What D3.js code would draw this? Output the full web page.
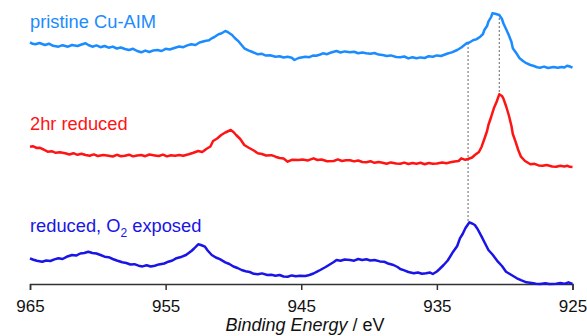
<!DOCTYPE html>
<html>
<head>
<meta charset="utf-8">
<script src="https://cdn.jsdelivr.net/npm/d3@7"></script>
<style>
  body { margin: 0; background: #fff; }
  svg { display: block; font-family: "Liberation Sans", Arial, sans-serif; }
</style>
</head>
<body>
<div id="chart"></div>
<script>
// [binding energy (eV), intensity (a.u.)]
const pristine = [
  [965.0,41.7],[964.8,40.2],[964.6,39.7],[964.3,41.0],[963.9,39.0],[963.6,40.3],[963.3,38.2],[962.9,37.3],
  [962.6,38.8],[962.2,37.3],[961.9,39.0],[961.5,38.0],[961.2,39.5],[960.9,40.7],[960.7,39.0],[960.4,37.3],
  [960.1,38.6],[959.8,36.8],[959.5,38.0],[959.2,36.3],[958.9,37.4],[958.6,35.5],[958.3,36.5],[958.0,35.0],
  [957.7,34.0],[957.4,35.2],[957.1,33.0],[956.8,31.7],[956.5,33.4],[956.2,32.0],[955.9,33.6],[955.6,34.0],
  [955.3,33.0],[955.0,35.2],[954.7,34.5],[954.3,36.3],[954.0,37.5],[953.7,36.8],[953.4,38.6],[953.1,39.7],
  [952.8,39.0],[952.5,41.5],[952.1,43.0],[951.8,43.8],[951.6,45.7],[951.4,47.0],[951.1,49.7],[950.9,50.5],
  [950.6,53.0],[950.4,51.8],[950.1,49.0],[949.9,46.0],[949.6,42.3],[949.4,39.0],[949.2,35.7],[948.9,33.6],
  [948.6,32.0],[948.2,29.7],[947.9,30.2],[947.6,28.4],[947.3,28.8],[946.9,27.3],[946.6,27.8],[946.3,26.5],
  [946.0,27.2],[945.7,26.3],[945.5,24.0],[945.2,26.0],[944.7,27.3],[944.4,26.8],[944.1,28.6],[943.9,28.3],
  [943.6,29.5],[943.4,30.7],[943.1,29.8],[942.8,31.5],[942.4,33.0],[942.1,31.5],[941.8,32.6],[941.4,31.7],
  [941.1,32.2],[940.8,30.8],[940.5,31.5],[940.2,30.7],[939.9,30.2],[939.6,31.0],[939.3,29.4],[939.0,29.0],
  [938.7,28.0],[938.4,28.6],[938.0,27.0],[937.7,26.7],[937.4,27.5],[937.1,25.6],[936.8,26.8],[936.5,25.7],
  [936.2,26.6],[935.9,26.0],[935.6,27.8],[935.3,27.3],[935.0,28.6],[934.7,28.0],[934.5,29.0],[934.2,30.5],
  [933.9,31.6],[933.5,34.0],[933.2,36.5],[932.8,40.7],[932.6,41.5],[932.3,44.0],[932.1,44.6],[931.8,47.3],
  [931.6,50.0],[931.5,54.0],[931.3,58.0],[931.2,62.3],[931.0,67.0],[930.9,70.7],[930.7,70.2],[930.4,69.0],
  [930.2,65.0],[930.1,60.7],[929.9,55.0],[929.7,49.0],[929.5,42.0],[929.4,35.7],[929.1,30.0],[928.9,25.7],
  [928.6,22.5],[928.4,20.8],[928.1,19.0],[927.9,18.2],[927.6,16.8],[927.4,16.3],[927.1,17.4],[926.8,16.0],
  [926.4,17.0],[926.1,16.2],[925.8,17.0],[925.6,16.5],[925.4,18.3],[925.2,17.5],[925.0,16.3]
];

const reduced = [
  [965.0,37.3],[964.8,37.8],[964.5,36.0],[964.3,36.3],[964.0,34.5],[963.7,32.3],[963.4,32.8],[963.1,31.2],
  [962.8,31.8],[962.4,30.7],[962.1,29.5],[961.8,30.8],[961.5,29.2],[961.2,30.2],[960.9,29.0],[960.6,28.2],
  [960.3,29.6],[960.0,28.0],[959.6,29.0],[959.2,28.3],[958.9,27.5],[958.6,29.2],[958.3,27.8],[958.0,28.3],
  [957.7,29.3],[957.4,27.6],[957.1,28.5],[956.8,29.0],[956.5,27.8],[956.2,29.5],[955.8,28.6],[955.5,28.0],
  [955.2,29.4],[954.9,27.6],[954.6,28.8],[954.3,28.3],[954.0,29.0],[953.7,28.2],[953.3,29.7],[953.0,31.0],
  [952.6,33.0],[952.3,32.0],[952.0,35.0],[951.7,37.5],[951.5,43.0],[951.2,45.5],[950.9,49.0],[950.6,51.5],
  [950.2,54.0],[950.0,52.0],[949.8,49.0],[949.5,45.0],[949.2,39.0],[948.9,36.5],[948.5,33.5],[948.2,30.7],
  [947.9,30.0],[947.6,28.5],[947.2,28.8],[946.9,27.3],[946.6,26.0],[946.3,25.4],[946.0,22.3],[945.7,24.2],
  [945.2,24.0],[944.9,24.5],[944.5,23.6],[944.1,25.7],[943.8,24.0],[943.5,24.5],[943.1,22.8],[942.6,23.0],
  [942.3,24.6],[942.0,23.0],[941.7,23.8],[941.4,23.7],[941.1,22.6],[940.8,23.5],[940.5,22.0],[940.2,21.7],
  [939.9,22.8],[939.6,21.2],[939.3,22.0],[939.0,21.3],[938.7,20.2],[938.4,21.6],[938.0,20.5],[937.7,20.3],
  [937.4,21.4],[937.1,20.0],[936.8,21.0],[936.5,20.3],[936.2,21.2],[935.9,19.8],[935.6,21.0],[935.3,20.3],
  [935.0,20.6],[934.6,21.5],[934.3,20.8],[934.0,21.7],[933.7,22.5],[933.4,23.0],[933.2,25.7],[932.9,24.2],
  [932.7,25.0],[932.4,26.5],[932.2,29.0],[931.9,32.0],[931.7,37.3],[931.5,45.0],[931.3,53.0],[931.2,59.0],
  [931.0,67.0],[930.8,75.7],[930.6,82.0],[930.4,89.7],[930.2,88.0],[930.1,85.7],[929.9,78.0],[929.7,69.0],
  [929.5,58.0],[929.4,50.0],[929.2,42.3],[929.0,34.0],[928.8,27.3],[928.5,23.0],[928.1,19.7],[927.8,20.2],
  [927.5,18.6],[927.2,18.3],[926.9,19.0],[926.5,17.5],[926.2,17.3],[925.9,18.2],[925.6,17.4],[925.4,18.3],
  [925.2,17.2],[925.0,17.0]
];

const exposed = [
  [965.0,25.7],[964.8,24.5],[964.5,23.2],[964.1,22.3],[963.8,23.5],[963.5,23.0],[963.2,24.6],[962.9,25.7],
  [962.6,25.0],[962.3,27.2],[961.9,29.0],[961.6,28.4],[961.3,30.5],[961.0,31.0],[960.7,32.3],[960.4,31.0],
  [960.1,30.5],[959.8,29.0],[959.5,27.3],[959.2,26.8],[958.9,25.0],[958.6,23.5],[958.2,21.7],[957.9,21.0],
  [957.6,19.5],[957.3,19.8],[957.0,18.3],[956.7,17.6],[956.4,18.8],[956.1,17.5],[955.8,18.3],[955.5,19.6],
  [955.1,20.5],[954.8,22.3],[954.5,23.5],[954.2,25.8],[953.8,27.3],[953.5,29.0],[953.1,33.0],[952.9,35.5],
  [952.6,39.7],[952.4,39.0],[952.1,37.3],[951.9,33.5],[951.6,29.0],[951.3,26.5],[951.0,24.8],[950.6,21.7],
  [950.3,20.0],[950.0,17.5],[949.7,16.0],[949.4,14.0],[949.1,12.8],[948.8,12.0],[948.5,10.2],[948.2,9.7],
  [947.9,10.6],[947.5,9.0],[947.2,9.2],[946.9,8.3],[946.6,9.0],[946.3,7.5],[946.0,7.3],[945.7,8.6],
  [945.4,7.8],[945.1,8.3],[944.7,8.0],[944.4,9.0],[944.1,10.5],[943.8,12.6],[943.6,14.0],[943.2,17.0],
  [942.9,19.5],[942.6,22.0],[942.4,24.0],[942.1,23.2],[941.8,24.5],[941.4,24.0],[941.1,23.3],[940.8,25.0],
  [940.5,24.0],[940.2,24.7],[939.9,23.5],[939.6,24.0],[939.2,22.6],[938.9,22.3],[938.6,20.5],[938.2,19.0],
  [937.9,17.0],[937.7,15.0],[937.4,13.6],[937.1,12.0],[936.7,10.7],[936.4,11.5],[936.1,10.2],[935.8,10.7],
  [935.5,11.4],[935.3,10.0],[935.0,12.5],[934.8,15.0],[934.5,19.0],[934.2,23.5],[933.8,32.3],[933.5,38.0],
  [933.3,45.7],[933.1,50.0],[932.9,55.7],[932.6,61.7],[932.4,60.5],[932.2,59.0],[932.0,55.0],[931.7,47.3],
  [931.5,42.0],[931.2,34.0],[930.9,29.5],[930.5,22.3],[930.2,18.0],[929.9,12.3],[929.5,9.0],[929.1,5.7],
  [928.8,3.8],[928.4,1.7],[928.0,1.0],[927.7,0.2],[927.4,0.0],[927.0,0.8],[926.7,0.0],[926.2,0.3],
  [925.9,1.0],[925.6,0.2],[925.3,1.7],[925.0,0.0]
];

const seriesNames = ['pristine Cu-AIM', '2hr reduced', 'reduced, O2 exposed'];
const seriesOffsets = [200, 100, 0];
const seriesColors = ['#1a8cff', '#ff1414', '#1a14e6'];

const tickValues = [965, 955, 945, 935, 925];

// dashed guides: energy, from (stacked intensity) to (stacked intensity)
const guideLines = [
  { ev: 932.7, top: 241, bottom: 62 },
  { ev: 930.4, top: 266, bottom: 189 }
];

const width = 587;
const height = 336;

const svg = d3.select('#chart')
  .append('svg')
  .attr('width', width)
  .attr('height', height);

const x = d3.scaleLinear()
  .domain([965, 925])
  .range([30, 572.5]);

const y = d3.scaleLinear()
  .domain([0, 284])
  .range([284, 0]);

// x-axis
const axis = svg.append('g')
  .attr('transform', `translate(0, ${y(0)})`)
  .call(d3.axisBottom(x).tickValues(tickValues).tickSize(6).tickPadding(9.5).tickFormat(d3.format('d')));

axis.select('.domain')
  .attr('stroke', '#333')
  .attr('stroke-width', 1.5);
axis.selectAll('.tick line')
  .attr('stroke', '#333')
  .attr('stroke-width', 1.5);
axis.selectAll('.tick text')
  .attr('fill', '#111')
  .style('font-size', '17px')
  .style('font-family', '"Liberation Sans", Arial, sans-serif');

// axis title
const title = svg.append('text')
  .attr('x', 305)
  .attr('y', 331)
  .attr('text-anchor', 'middle')
  .attr('fill', '#111')
  .style('font-size', '18px');
title.append('tspan').style('font-style', 'italic').text('Binding Energy');
title.append('tspan').text(' / eV');

// guide lines
svg.selectAll('.guide')
  .data(guideLines)
  .enter()
  .append('line')
  .attr('class', 'guide')
  .attr('x1', d => x(d.ev))
  .attr('x2', d => x(d.ev))
  .attr('y1', d => y(d.top))
  .attr('y2', d => y(d.bottom))
  .attr('stroke', '#666')
  .attr('stroke-width', 1)
  .attr('stroke-dasharray', '2,2');

// spectra
const allSeries = [pristine, reduced, exposed];
allSeries.forEach((data, i) => {
  const line = d3.line()
    .x(d => x(d[0]))
    .y(d => y(d[1] + seriesOffsets[i]));
  svg.append('path')
    .datum(data)
    .attr('fill', 'none')
    .attr('stroke', seriesColors[i])
    .attr('stroke-width', 2.5)
    .attr('stroke-linejoin', 'round')
    .attr('d', line);
});

// series labels
const labelBaselines = [27.7, 130, 232.3];
seriesNames.forEach((name, i) => {
  const t = svg.append('text')
    .attr('x', 30)
    .attr('y', labelBaselines[i])
    .attr('fill', seriesColors[i])
    .style('font-size', '18.3px');
  if (name.includes('O2')) {
    const parts = name.split('O2');
    t.append('tspan').text(parts[0] + 'O');
    t.append('tspan').attr('dy', 5).style('font-size', '12px').text('2');
    t.append('tspan').attr('dy', -5).text(parts[1]);
  } else {
    t.text(name);
  }
});
</script>
</body>
</html>
